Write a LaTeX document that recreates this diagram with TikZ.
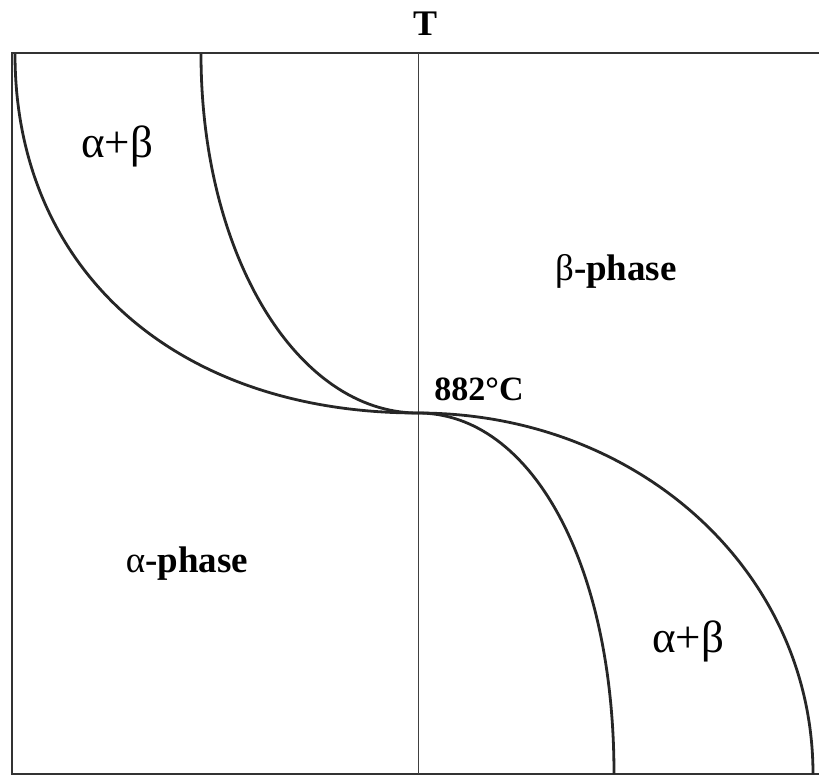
\documentclass[tikz,border=0pt]{standalone}
\usepackage{fontspec}
\setmainfont{Liberation Serif}
\begin{document}
\begin{tikzpicture}[x=1pt,y=-1pt,
  frame/.style={line width=1.3pt,black!80},
  curve/.style={line width=2.8pt,black!85},
  lbl/.style={anchor=base,inner sep=0pt,font=\fontsize{45}{50}\selectfont}]
  \useasboundingbox (0,0) rectangle (819,776);
  \draw[frame] (819,53) -- (12,53) -- (12,774) -- (819,774);
  \draw[line width=0.9pt,black!75] (418,53) -- (418,774);
  \draw[curve] (15,54) .. controls (15,270) and (176,413) .. (418,413);
  \draw[curve] (201,54) .. controls (201,255) and (297,413) .. (418,413);
  \draw[curve] (418,413) .. controls (639,413) and (813,572) .. (813,774);
  \draw[curve] (418,413) .. controls (532,413) and (614,565) .. (614,774);
  \node[lbl,font=\fontsize{36}{40}\selectfont\bfseries,anchor=center] (t) at (425,24) {T};
  \node[lbl] (ab1) at (117,157) {α+β};
  \node[lbl,font=\fontsize{37}{42}\selectfont\bfseries] (bph) at (616,280) {{\mdseries β}-phase};
  \node[lbl,font=\fontsize{34}{38}\selectfont\bfseries] (temp) at (479,400) {882°C};
  \node[lbl,font=\fontsize{37}{42}\selectfont\bfseries] (aph) at (187,572) {{\mdseries α}-phase};
  \node[lbl] (ab2) at (688,652) {α+β};
\end{tikzpicture}
\end{document}
